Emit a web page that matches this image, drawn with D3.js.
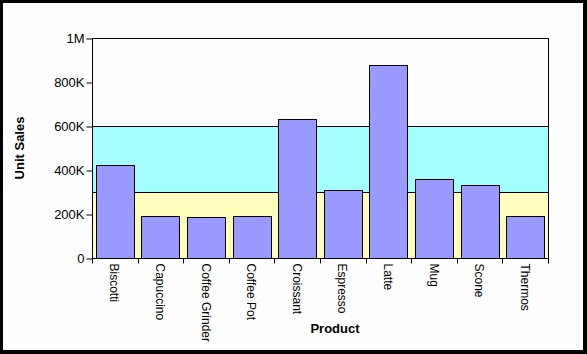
<!DOCTYPE html>
<html><head><meta charset="utf-8">
<script src="https://cdn.jsdelivr.net/npm/d3@7"></script>
<style>html,body{margin:0;padding:0;background:#000;}svg{display:block;}</style>
</head><body>
<script>
const categories = ["Biscotti","Capuccino","Coffee Grinder","Coffee Pot","Croissant","Espresso","Latte","Mug","Scone","Thermos"];
const unitSales = [421000,190000,185000,190000,630000,308000,876000,358000,330000,190000];
const yTicks = [0,200000,400000,600000,800000,1000000];
const yTickLabels = ["0","200K","400K","600K","800K","1M"];
const bands = [{from:0,to:300000,color:"#FFFFBB"},{from:300000,to:600000,color:"#A4FFFF"}];

const W=587,H=354;
const svg=d3.select("body").append("svg").attr("width",W).attr("height",H);
svg.append("rect").attr("x",0).attr("y",0).attr("width",W).attr("height",H).attr("fill","#000");
svg.append("rect").attr("x",3).attr("y",3).attr("width",580).attr("height",347).attr("fill","#FDFEFD");

const L=92,R=548,T=38,B=258;
const x=d3.scaleBand().domain(categories).range([L,R]).paddingInner(0.17).paddingOuter(0.085);
const y=d3.scaleLinear().domain([0,1000000]).range([B,T]);

svg.append("rect").attr("x",L).attr("y",T).attr("width",R-L).attr("height",B-T).attr("fill","#FDFEFD");
svg.selectAll("rect.band").data(bands).enter().append("rect").attr("class","band")
  .attr("x",L).attr("width",R-L).attr("y",d=>y(d.to)).attr("height",d=>y(d.from)-y(d.to)).attr("fill",d=>d.color);
svg.selectAll("line.bl").data(bands).enter().append("line").attr("class","bl")
  .attr("x1",L).attr("x2",R).attr("y1",d=>Math.round(y(d.to))+0.5).attr("y2",d=>Math.round(y(d.to))+0.5)
  .attr("stroke","#000").attr("stroke-width",1);

svg.selectAll("rect.bar").data(categories).enter().append("rect").attr("class","bar")
  .attr("x",d=>Math.round(x(d))+0.5).attr("width",Math.round(x.bandwidth()))
  .attr("y",(d,i)=>Math.round(y(unitSales[i]))+0.5).attr("height",(d,i)=>Math.round(B-y(unitSales[i])))
  .attr("fill","#9999FF").attr("stroke","#000").attr("stroke-width",1);

// frame
svg.append("rect").attr("x",L+0.5).attr("y",T+0.5).attr("width",R-L).attr("height",B-T)
  .attr("fill","none").attr("stroke","#000").attr("stroke-width",1);

// y axis
const yAxis=d3.axisLeft(y).tickValues(yTicks).tickFormat((d,i)=>yTickLabels[i]).tickSize(6).tickPadding(2);
const ga=svg.append("g").attr("transform",`translate(${L+0.5},0.5)`).call(yAxis);
ga.select(".domain").remove();
ga.selectAll("text").attr("font-family","Arial, Liberation Sans, sans-serif").attr("font-size",13).attr("fill","#000");
ga.selectAll("line").attr("stroke","#000");

// x axis
const xb=d3.scaleBand().domain(categories).range([L,R]);
const gx=svg.append("g").attr("transform",`translate(0.5,${B+0.5})`);
gx.append("line").attr("x1",L).attr("x2",R).attr("y1",0).attr("y2",0).attr("stroke","#000");
const edges=categories.map(c=>xb(c)).concat([R]);
gx.selectAll("line.t").data(edges).enter().append("line").attr("class","t")
  .attr("x1",d=>Math.round(d)).attr("x2",d=>Math.round(d)).attr("y1",0).attr("y2",5).attr("stroke","#000");
gx.selectAll("text").data(categories).enter().append("text")
  .attr("transform",d=>`translate(${xb(d)+xb.bandwidth()/2-5},5) rotate(90)`)
  .attr("font-family","Arial, Liberation Sans, sans-serif").attr("font-size",12).attr("fill","#000")
  .attr("text-anchor","start").attr("dy","0").text(d=>d);

svg.append("text").attr("x",335).attr("y",333).attr("text-anchor","middle")
  .attr("font-family","Arial, Liberation Sans, sans-serif").attr("font-size",13).attr("font-weight","bold").text("Product");
svg.append("text").attr("transform","translate(24,148) rotate(-90)").attr("text-anchor","middle")
  .attr("font-family","Arial, Liberation Sans, sans-serif").attr("font-size",13).attr("font-weight","bold").text("Unit Sales");
</script>
</body></html>
